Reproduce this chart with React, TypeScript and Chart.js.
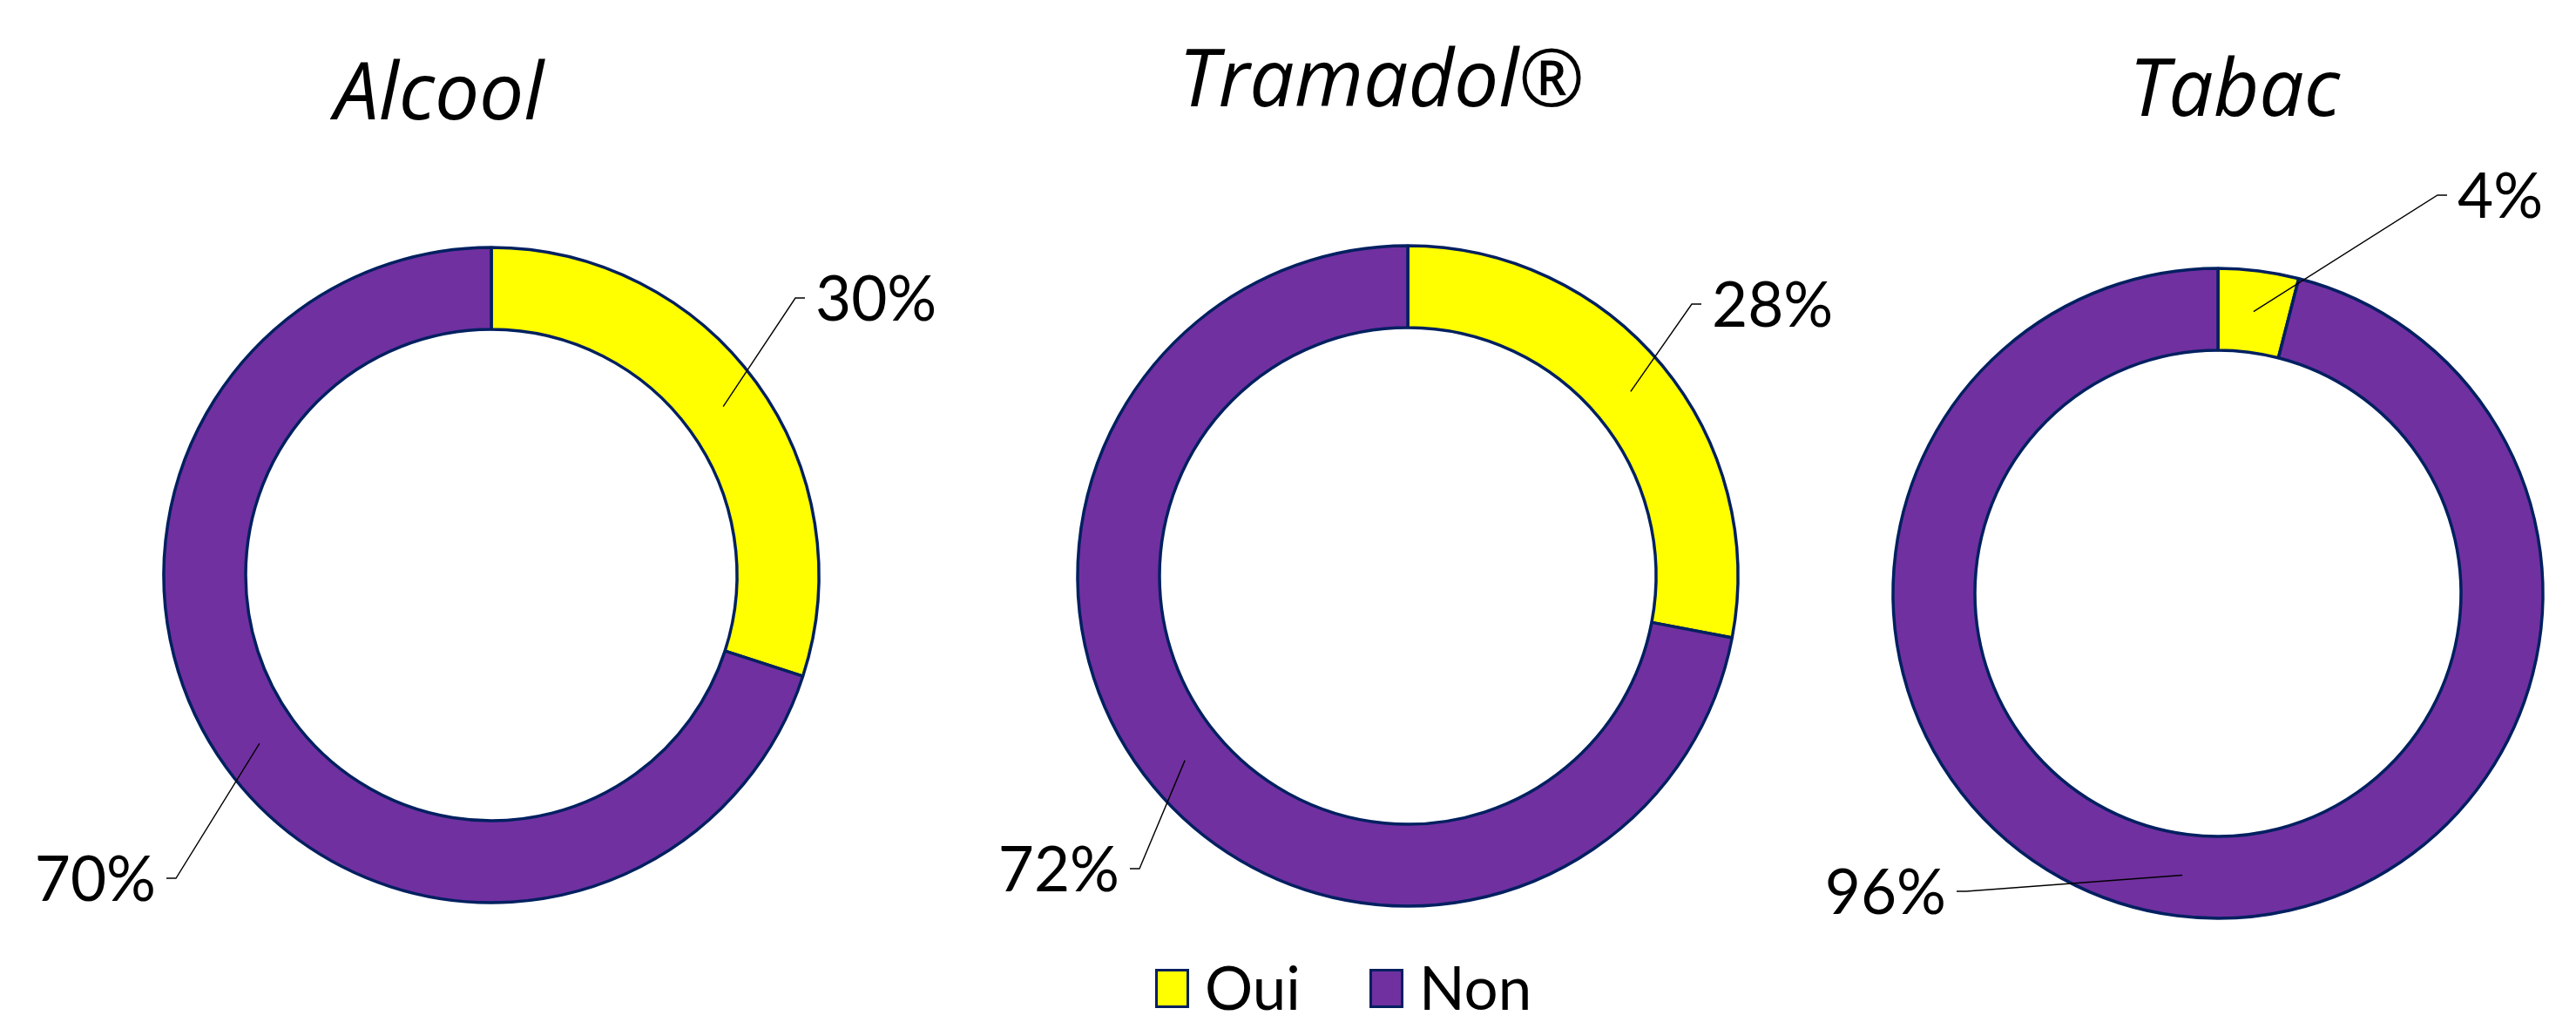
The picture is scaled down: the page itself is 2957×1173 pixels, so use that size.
import React, { useEffect, useRef } from 'react';
import { Chart, registerables } from 'chart.js';

Chart.register(...registerables);

// ---- data ----
const categories = ['Oui', 'Non'];
const chartTitles = ['Alcool', 'Tramadol®', 'Tabac'];
const ouiValues = [30, 28, 4];
const nonValues = [70, 72, 96];

// ---- style / layout ----
const sliceColors = ['#FFFF00', '#7030A0'];
const edgeColor = '#002060';
const W = 2957;
const H = 1173;
const centers: number[][] = [[564, 660], [1616, 661], [2546, 681]];
const outerRadii = [376, 379, 373];
const ringWidth = 94;
const titleOffsets: number[][] = [[-60, -523], [-30, -539], [19, -548]];
const elbowOffsets: number[][][] = [
  [[349, -318], [-362, 348]],
  [[326, -312], [-308, 336]],
  [[252, -457], [-289, 342]],
];
const legendX = [1326, 1572];
const legendBoxY = 1112;
const legendBaseline = 1159;

const TITLE_FONT = 'italic 400 91px "Open Sans"';
const LABEL_FONT = '400 71px Lato';
const LEGEND_FONT = '400 69px Lato';

const overlayPlugin = {
  id: 'overlay',
  afterDraw(chart: any, _args: any, opts: any) {
    const ctx = chart.ctx as CanvasRenderingContext2D;
    const meta = chart.getDatasetMeta(0);
    const values = chart.data.datasets[0].data as number[];
    ctx.save();
    ctx.fillStyle = '#000';
    // title
    const first = meta.data[0].getProps(['x', 'y'], true);
    ctx.font = TITLE_FONT;
    ctx.textAlign = 'center';
    ctx.textBaseline = 'alphabetic';
    ctx.fillText(opts.title, first.x + opts.titleOffset[0], first.y + opts.titleOffset[1]);
    // leader lines + labels
    meta.data.forEach((arc: any, i: number) => {
      const p = arc.getProps(['x', 'y', 'startAngle', 'endAngle', 'innerRadius', 'outerRadius'], true);
      const mid = (p.startAngle + p.endAngle) / 2;
      const r = (p.innerRadius + p.outerRadius) / 2;
      const ax = p.x + Math.cos(mid) * r;
      const ay = p.y + Math.sin(mid) * r;
      const [dx, dy] = opts.elbows[i];
      const ex = p.x + dx;
      const ey = p.y + dy;
      const dir = dx >= 0 ? 1 : -1;
      ctx.beginPath();
      ctx.moveTo(ax, ay);
      ctx.lineTo(ex, ey);
      ctx.lineTo(ex + dir * 11, ey);
      ctx.strokeStyle = '#000';
      ctx.lineWidth = 1.4;
      ctx.stroke();
      ctx.font = LABEL_FONT;
      ctx.textAlign = dir > 0 ? 'left' : 'right';
      ctx.fillText(values[i] + '%', ex + dir * 23, ey + 26);
    });
    // legend
    if (opts.legend) {
      categories.forEach((cat, i) => {
        const x = legendX[i];
        ctx.fillStyle = sliceColors[i];
        ctx.fillRect(x, legendBoxY, 39, 45);
        ctx.strokeStyle = edgeColor;
        ctx.lineWidth = 3;
        ctx.strokeRect(x + 1.5, legendBoxY + 1.5, 36, 42);
        ctx.fillStyle = '#000';
        ctx.font = LEGEND_FONT;
        ctx.textAlign = 'left';
        ctx.fillText(cat, x + 57, legendBaseline);
      });
    }
    ctx.restore();
  },
};

function Donut({ index }: { index: number }) {
  const ref = useRef<HTMLCanvasElement | null>(null);
  useEffect(() => {
    if (!ref.current) return;
    const [cx, cy] = centers[index];
    const padX = 2 * cx - W;
    const padY = 2 * cy - H;
    const outerR = outerRadii[index];
    const chart = new Chart(ref.current, {
      type: 'doughnut',
      data: {
        labels: categories,
        datasets: [
          {
            data: [ouiValues[index], nonValues[index]],
            backgroundColor: sliceColors,
            borderColor: edgeColor,
            borderWidth: 3.5,
          },
        ],
      },
      options: {
        responsive: false,
        animation: false,
        events: [],
        radius: outerR,
        cutout: ((1 - ringWidth / outerR) * 100).toFixed(3) + '%',
        layout: {
          padding: {
            left: padX > 0 ? padX : 0,
            right: padX > 0 ? 0 : -padX,
            top: padY > 0 ? padY : 0,
            bottom: padY > 0 ? 0 : -padY,
          },
        },
        plugins: {
          legend: { display: false },
          tooltip: { enabled: false },
          overlay: {
            title: chartTitles[index],
            titleOffset: titleOffsets[index],
            elbows: elbowOffsets[index],
            legend: index === 1,
          },
        } as any,
      } as any,
      plugins: [overlayPlugin],
    });
    return () => chart.destroy();
  }, [index]);
  return (
    <canvas
      ref={ref}
      width={W}
      height={H}
      style={{ position: 'absolute', left: 0, top: 0, width: W, height: H }}
    />
  );
}

export default function App() {
  return (
    <div
      style={{
        position: 'absolute',
        left: 0,
        top: 0,
        width: W,
        height: H,
        overflow: 'hidden',
        background: '#fff',
      }}
    >
      {chartTitles.map((_, i) => (
        <Donut key={i} index={i} />
      ))}
    </div>
  );
}
